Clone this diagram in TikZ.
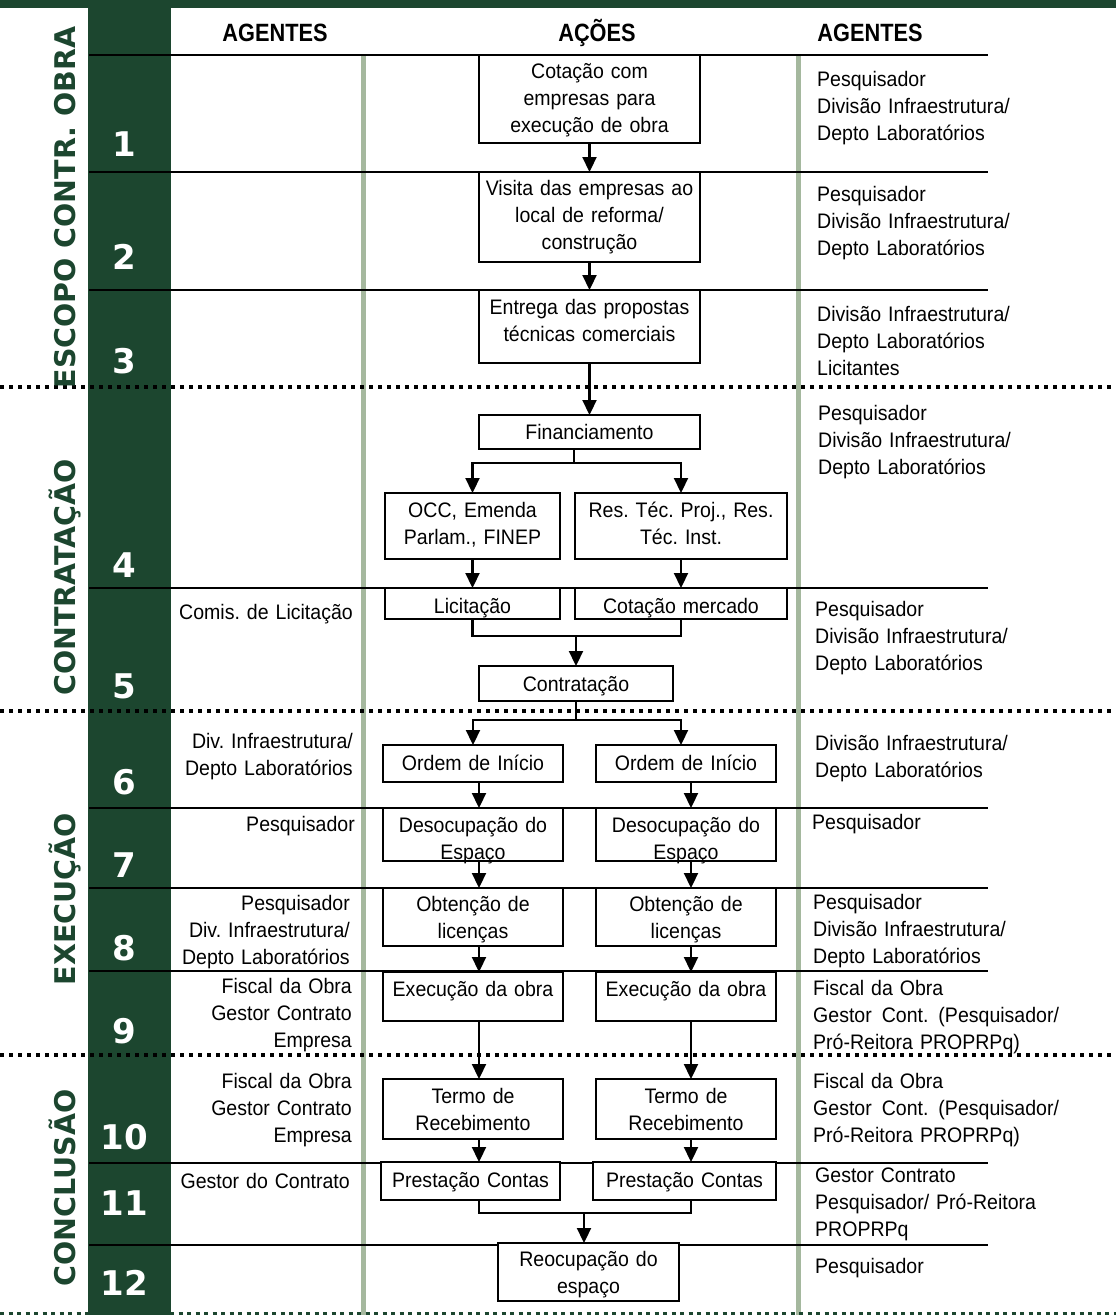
\documentclass[tikz,border=0pt]{standalone}
\usepackage{fontspec}
\setmainfont{Liberation Sans}[FakeStretch=0.93]
\newfontfamily\cabfont{Liberation Sans}[FakeStretch=0.87]
\newfontfamily\numfont{DejaVu Sans}
\usepackage{tikz}
\usetikzlibrary{arrows.meta, calc}
\newcommand{\rgb}[3]{rgb,255:red,#1; green,#2; blue,#3}
\newcommand{\corpo}{\fontsize{21}{27.4}\selectfont\frenchspacing}

\begin{document}
\begin{tikzpicture}[x=1pt, y=-1pt,
    acao/.style={draw, fill=white, line width=2.4pt, inner sep=0pt, outer sep=0pt, align=center, font=\corpo, anchor=north},
    agdir/.style={inner sep=0pt, text width=260pt, align=left, font=\corpo, anchor=base west},
    agesq/.style={inner sep=0pt, text width=180pt, align=right, font=\corpo, anchor=base east},
    cabec/.style={inner sep=0pt, anchor=base, font=\cabfont\bfseries\fontsize{25}{25}\selectfont},
    numero/.style={inner sep=0pt, anchor=base, text=white, font=\numfont\bfseries\fontsize{34}{34}\selectfont},
    fase/.style={inner sep=0pt, anchor=base, rotate=90, text=\rgb{28}{70}{47}, font=\numfont\bfseries\fontsize{28.5}{28.5}\selectfont},
    linha/.style={line width=1.8pt},
    fio/.style={line width=2.2pt},
    seta/.style={line width=2.2pt, -{Triangle[width=14pt,length=15pt]}},
    pontos/.style={line width=4pt, dash pattern=on 4pt off 5pt}]
    \useasboundingbox (0,0) rectangle (1116,1315);

    %faixa do topo e coluna verde das etapas
    \path [fill=\rgb{28}{70}{47}] (0,0) rectangle (1116,8);
    \path [fill=\rgb{28}{70}{47}] (88,0) rectangle (171,1315);

    %colunas verde-claras
    \draw [line width=5pt, color=\rgb{165}{184}{158}] (363.5,55) -- (363.5,1315);
    \draw [line width=5pt, color=\rgb{165}{184}{158}] (798,55) -- (798,1315);

    %linhas das etapas
    \foreach \y in {55,172,290,588,808,888,971,1163,1245}
      \draw [linha] (89,\y) -- (988,\y);

    %linhas pontilhadas entre as fases
    \foreach \y in {387,711,1055}
      \draw [pontos] (0,\y) -- (1116,\y);
    \draw [line width=2.4pt, dash pattern=on 4pt off 4.5pt, color=\rgb{28}{70}{47}] (0,1313.5) -- (1116,1313.5);

    %cabecalhos
    \node [cabec] (cabE) at (275,41) {AGENTES};
    \node [cabec] (cabA) at (597,41) {AÇÕES};
    \node [cabec] (cabD) at (870,41) {AGENTES};

    %fases
    \node [fase] (f1) at (75,207.5) {ESCOPO CONTR. OBRA};
    \node [fase] (f2) at (75,577.5) {CONTRATAÇÃO};
    \node [fase] (f3) at (75,899) {EXECUÇÃO};
    \node [fase] (f4) at (75,1188) {CONCLUSÃO};

    %numeros das etapas
    \foreach \n/\y in {1/156, 2/269, 3/373, 4/577, 5/698, 6/794, 7/877, 8/960, 9/1043, 10/1149, 11/1215, 12/1295}
      \node [numero] (n\n) at (124,\y) {\n};

    %caixas das acoes
    \node [acao, text width=221pt, text height=23pt, text depth=65pt] (cot) at (589.5,55) {Cotação com\\empresas para\\execução de obra};
    \node [acao, text width=221pt, text height=23pt, text depth=67pt] (vis) at (589.5,172) {Visita das empresas ao\\local de reforma/\\construção};
    \node [acao, text width=221pt, text height=24pt, text depth=49pt] (ent) at (589.5,290) {Entrega das propostas\\técnicas comerciais};
    \node [acao, text width=221pt, text height=24pt, text depth=10pt] (fin) at (589.5,415) {Financiamento};
    \node [acao, text width=175pt, text height=24pt, text depth=42pt] (occ) at (472.5,493) {OCC, Emenda\\Parlam., FINEP};
    \node [acao, text width=212pt, text height=24pt, text depth=42pt] (res) at (681,493) {Res. Téc. Proj., Res.\\Téc. Inst.};
    \node [acao, text width=175pt, text height=25pt, text depth=6pt] (lic) at (472.5,588) {Licitação};
    \node [acao, text width=212pt, text height=25pt, text depth=6pt] (cotm) at (681,588) {Cotação mercado};
    \node [acao, text width=194pt, text height=25pt, text depth=10pt] (contr) at (576,666) {Contratação};
    \node [acao, text width=180pt, text height=25pt, text depth=12pt] (ordL) at (473,745) {Ordem de Início};
    \node [acao, text width=180pt, text height=25pt, text depth=12pt] (ordR) at (686,745) {Ordem de Início};
    \node [acao, text width=180pt, text height=24pt, text depth=29pt] (desL) at (473,808) {Desocupação do\\Espaço};
    \node [acao, text width=180pt, text height=24pt, text depth=29pt] (desR) at (686,808) {Desocupação do\\Espaço};
    \node [acao, text width=180pt, text height=23pt, text depth=35pt] (obtL) at (473,888) {Obtenção de\\licenças};
    \node [acao, text width=180pt, text height=23pt, text depth=35pt] (obtR) at (686,888) {Obtenção de\\licenças};
    \node [acao, text width=180pt, text height=24pt, text depth=25pt] (exeL) at (473,972) {Execução da obra};
    \node [acao, text width=180pt, text height=24pt, text depth=25pt] (exeR) at (686,972) {Execução da obra};
    \node [acao, text width=180pt, text height=24pt, text depth=36pt] (termoL) at (473,1079) {Termo de\\Recebimento};
    \node [acao, text width=180pt, text height=24pt, text depth=36pt] (termoR) at (686,1079) {Termo de\\Recebimento};
    \node [acao, text width=179pt, text height=25pt, text depth=13pt] (prestL) at (470.5,1162) {Prestação Contas};
    \node [acao, text width=183pt, text height=25pt, text depth=13pt] (prestR) at (684.5,1162) {Prestação Contas};
    \node [acao, text width=181pt, text height=23pt, text depth=35pt] (reoc) at (588.5,1243) {Reocupação do\\espaço};

    %setas do escopo
    \draw [seta] (cot.south) -- (vis.north);
    \draw [seta] (vis.south) -- (ent.north);
    \draw [seta] (ent.south) -- (fin.north);

    %financiamento e licitacao
    \coordinate (div1) at (574,463);
    \draw [fio] (fin.south -| div1) -- (div1);
    \draw [seta] (div1) -| (occ.north);
    \draw [seta] (div1) -| (res.north);
    \draw [seta] (occ.south) -- (lic.north);
    \draw [seta] (res.south) -- (cotm.north);
    \coordinate (jun1) at (576,636);
    \draw [fio] (lic.south) |- (jun1) -| (cotm.south);
    \draw [seta] (jun1) -- (contr.north);

    %execucao em duas colunas
    \coordinate (div2) at (576,720);
    \draw [fio] (contr.south) -- (div2);
    \draw [seta] (div2) -| (ordL.north);
    \draw [seta] (div2) -| ([xshift=-5pt]ordR.north);
    \coordinate (colE) at (479,0);
    \coordinate (colD) at (691,0);
    \foreach \a/\b in {ord/des, des/obt, obt/exe, exe/termo, termo/prest} {
      \draw [seta] (\a L.south -| colE) -- (\b L.north -| colE);
      \draw [seta] (\a R.south -| colD) -- (\b R.north -| colD);
    }
    \coordinate (jun2) at (584,1213);
    \draw [fio] (prestL.south -| colE) |- (jun2) -| (prestR.south -| colD);
    \draw [seta] (jun2) -- (reoc.north -| jun2);

    %agentes da esquerda
    \node [agesq] (e5) at (353,619) {Comis. de Licitação};
    \node [agesq] (e6) at (353,748) {Div. Infraestrutura/\\Depto Laboratórios};
    \node [agesq] (e7) at (355,831) {Pesquisador};
    \node [agesq] (e8) at (350,910) {Pesquisador\\Div. Infraestrutura/\\Depto Laboratórios};
    \node [agesq] (e9) at (352,993) {Fiscal da Obra\\Gestor Contrato\\Empresa};
    \node [agesq] (e10) at (352,1088) {Fiscal da Obra\\Gestor Contrato\\Empresa};
    \node [agesq] (e11) at (350,1188) {Gestor do Contrato};

    %agentes da direita
    \node [agdir] (d1) at (817,86) {Pesquisador\\Divisão Infraestrutura/\\Depto Laboratórios};
    \node [agdir] (d2) at (817,201) {Pesquisador\\Divisão Infraestrutura/\\Depto Laboratórios};
    \node [agdir] (d3) at (817,321) {Divisão Infraestrutura/\\Depto Laboratórios\\Licitantes};
    \node [agdir] (d4) at (818,420) {Pesquisador\\Divisão Infraestrutura/\\Depto Laboratórios};
    \node [agdir] (d5) at (815,616) {Pesquisador\\Divisão Infraestrutura/\\Depto Laboratórios};
    \node [agdir] (d6) at (815,750) {Divisão Infraestrutura/\\Depto Laboratórios};
    \node [agdir] (d7) at (812,829) {Pesquisador};
    \node [agdir] (d8) at (813,909) {Pesquisador\\Divisão Infraestrutura/\\Depto Laboratórios};
    \node [agdir] (d9) at (813,995) {Fiscal da Obra\\Gestor\hspace{3pt} Cont.\hspace{3pt} (Pesquisador/\\Pró-Reitora PROPRPq)};
    \node [agdir] (d10) at (813,1088) {Fiscal da Obra\\Gestor\hspace{3pt} Cont.\hspace{3pt} (Pesquisador/\\Pró-Reitora PROPRPq)};
    \node [agdir] (d11) at (815,1182) {Gestor Contrato\\Pesquisador/ Pró-Reitora\\PROPRPq};
    \node [agdir] (d12) at (815,1273) {Pesquisador};
\end{tikzpicture}
\end{document}
